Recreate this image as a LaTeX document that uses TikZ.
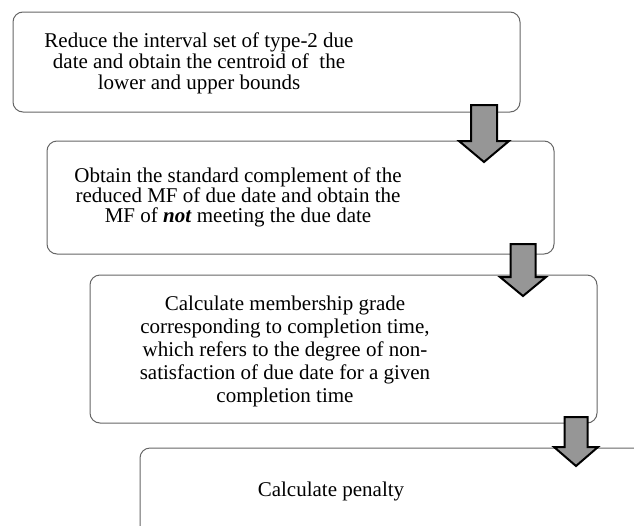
\documentclass[tikz,border=0pt]{standalone}
\usepackage{fontspec}
\setmainfont{Liberation Serif}
\begin{document}
\begin{tikzpicture}[x=1pt,y=-1pt,
  stepbox/.style={draw=black!60, line width=1pt, rounded corners=10pt, fill=white, inner sep=0pt},
  steptext/.style={align=center, inner sep=0pt, font=\fontsize{21}{21}\selectfont},
  blockarrow/.style={draw=black, line width=2pt, fill=black!41, line join=miter}]
\useasboundingbox (0,0) rectangle (634,525);
\clip (0,0) rectangle (634,525);
% boxes
\node[stepbox, minimum width=507pt, minimum height=100pt] (b1) at (266.5,62) {};
\node[stepbox, minimum width=507pt, minimum height=113pt] (b2) at (300.5,197.5) {};
\node[stepbox, minimum width=507pt, minimum height=148pt] (b3) at (343.5,349) {};
\node[stepbox, minimum width=507pt, minimum height=110pt] (b4) at (393.5,503) {};
% texts
\node[steptext] (t1) at (199,63) {Reduce the interval set of type-2 due\\date and obtain the centroid of~ the\\lower and upper bounds};
\node[steptext, font=\fontsize{21}{20}\selectfont] (t2) at (238,197) {Obtain the standard complement of the\\reduced MF of due date and obtain the\\MF of \textbf{\textit{not}} meeting the due date};
\node[steptext, font=\fontsize{21}{23}\selectfont] (t3) at (285,351) {Calculate membership grade\\corresponding to completion time,\\which refers to the degree of non-\\satisfaction of due date for a given\\completion time};
\node[steptext] (t4) at (331,491) {Calculate penalty};
% block arrows
\coordinate (a1) at (484,105);
\coordinate (a2) at (523,244);
\coordinate (a3) at (576,417);
\draw[blockarrow] (a1) ++(-13,0) -- ++(26,0) -- ++(0,36) -- ++(12,0) -- (484,162) -- (459,141) -- (471,141) -- cycle;
\draw[blockarrow] (a2) ++(-12.5,0) -- ++(25,0) -- ++(0,33) -- ++(10.5,0) -- (523,296) -- (500,277) -- (510.5,277) -- cycle;
\draw[blockarrow] (a3) ++(-11.5,0) -- ++(23,0) -- ++(0,30) -- ++(10.5,0) -- (576,466) -- (554,447) -- (564.5,447) -- cycle;
\end{tikzpicture}
\end{document}
